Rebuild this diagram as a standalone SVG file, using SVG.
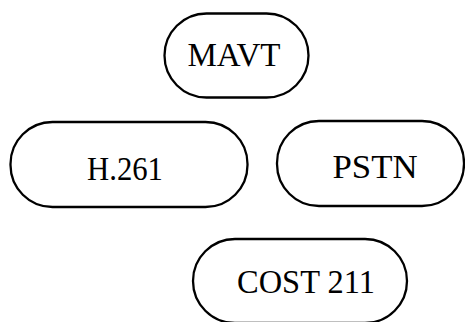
<svg xmlns="http://www.w3.org/2000/svg" width="465" height="322" viewBox="0 0 465 322">
<style>
.pill{fill:none;stroke:#000;stroke-width:2.3}
.lbl{font-family:"Liberation Serif","Times New Roman",serif;font-size:33px;fill:#000;text-anchor:middle}
</style>
<rect width="465" height="322" fill="#fff"/>
<g id="connectors"></g>
<g id="mavt">
<rect class="pill" x="164.5" y="13.5" width="144" height="84" rx="42" ry="42"/>
<text class="lbl" x="234" y="66" textLength="93" lengthAdjust="spacingAndGlyphs">MAVT</text>
</g>
<g id="h261">
<rect class="pill" x="10.5" y="122" width="237" height="85" rx="42" ry="42"/>
<text class="lbl" x="125" y="180" textLength="76" lengthAdjust="spacingAndGlyphs">H.261</text>
</g>
<g id="pstn">
<rect class="pill" x="277" y="121" width="187" height="85" rx="42" ry="42"/>
<text class="lbl" x="375" y="178" textLength="85" lengthAdjust="spacingAndGlyphs">PSTN</text>
</g>
<g id="cost211">
<rect class="pill" x="193" y="239" width="214" height="84" rx="42" ry="42"/>
<text class="lbl" x="306" y="293" textLength="138" lengthAdjust="spacingAndGlyphs">COST 211</text>
</g>
</svg>
